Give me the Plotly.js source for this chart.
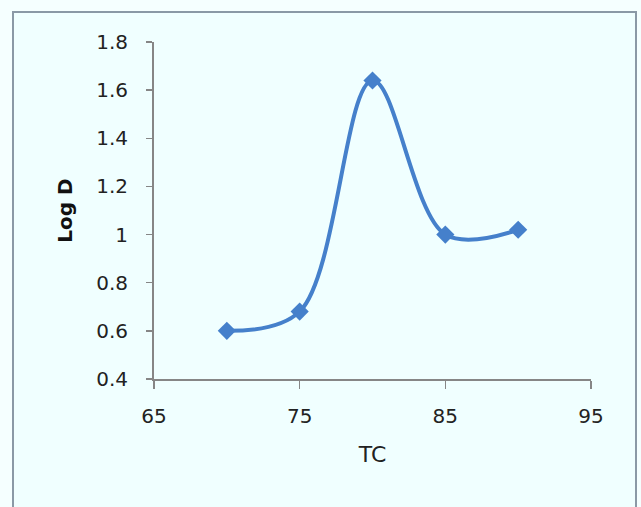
<!DOCTYPE html>
<html>
<head>
<meta charset="utf-8">
<script src="https://cdn.plot.ly/plotly-3.0.1.min.js"></script>
<style>html,body{margin:0;padding:0;background:#f5ffff;}#chart{width:641px;height:507px;}</style>
</head>
<body>
<div id="chart"></div>
<script>
const tc = [70, 75, 80, 85, 90];
const logD = [0.60, 0.68, 1.64, 1.00, 1.02];
const xTicks = [65, 75, 85, 95];
const yTicks = [0.4, 0.6, 0.8, 1, 1.2, 1.4, 1.6, 1.8];
const yTickText = ['0.4', '0.6', '0.8', '1', '1.2', '1.4', '1.6', '1.8'];

const trace = {
  x: tc, y: logD, type: 'scatter', mode: 'lines+markers',
  line: {color: '#4580cb', width: 4, shape: 'spline', smoothing: 1.0},
  marker: {symbol: 'diamond', size: 14, color: '#4580cb'},
  cliponaxis: false, showlegend: false, hoverinfo: 'none'
};

const FAM = 'DejaVu Sans, Verdana, sans-serif';
const layout = {
  width: 641, height: 507,
  margin: {l: 154, r: 50, t: 42, b: 128},
  paper_bgcolor: '#f5ffff', plot_bgcolor: '#f0ffff',
  font: {family: FAM, size: 20, color: '#222'},
  xaxis: {
    range: [65, 95], tickmode: 'array', tickvals: xTicks, ticktext: xTicks.map(String),
    showgrid: false, zeroline: false, showline: true, linecolor: '#868686', linewidth: 2,
    ticks: 'outside', ticklen: 8, tickwidth: 1.5, tickcolor: '#868686',
    tickfont: {family: FAM, size: 20, color: '#222'}, ticklabelstandoff: 10,
    title: {text: 'TC', font: {family: FAM, size: 22, color: '#222'}, standoff: 20}
  },
  yaxis: {
    range: [0.4, 1.8], tickmode: 'array', tickvals: yTicks, ticktext: yTickText,
    showgrid: false, zeroline: false, showline: true, linecolor: '#868686', linewidth: 2,
    ticks: 'outside', ticklen: 6, tickwidth: 1.5, tickcolor: '#868686',
    tickfont: {family: FAM, size: 20, color: '#222'}, ticklabelstandoff: 14,
    title: {text: '<b>Log D</b>', font: {family: FAM, size: 20, color: '#111'}, standoff: 18}
  },
  shapes: [{
    type: 'rect', xref: 'paper', yref: 'paper', layer: 'below',
    x0: (13 - 154) / 437, x1: (636 - 154) / 437,
    y0: (379 - 520) / 337, y1: (379 - 12) / 337,
    line: {color: '#8a99a6', width: 2}, fillcolor: '#f0ffff'
  }]
};
Plotly.newPlot('chart', [trace], layout, {staticPlot: true, displayModeBar: false});
</script>
</body>
</html>
